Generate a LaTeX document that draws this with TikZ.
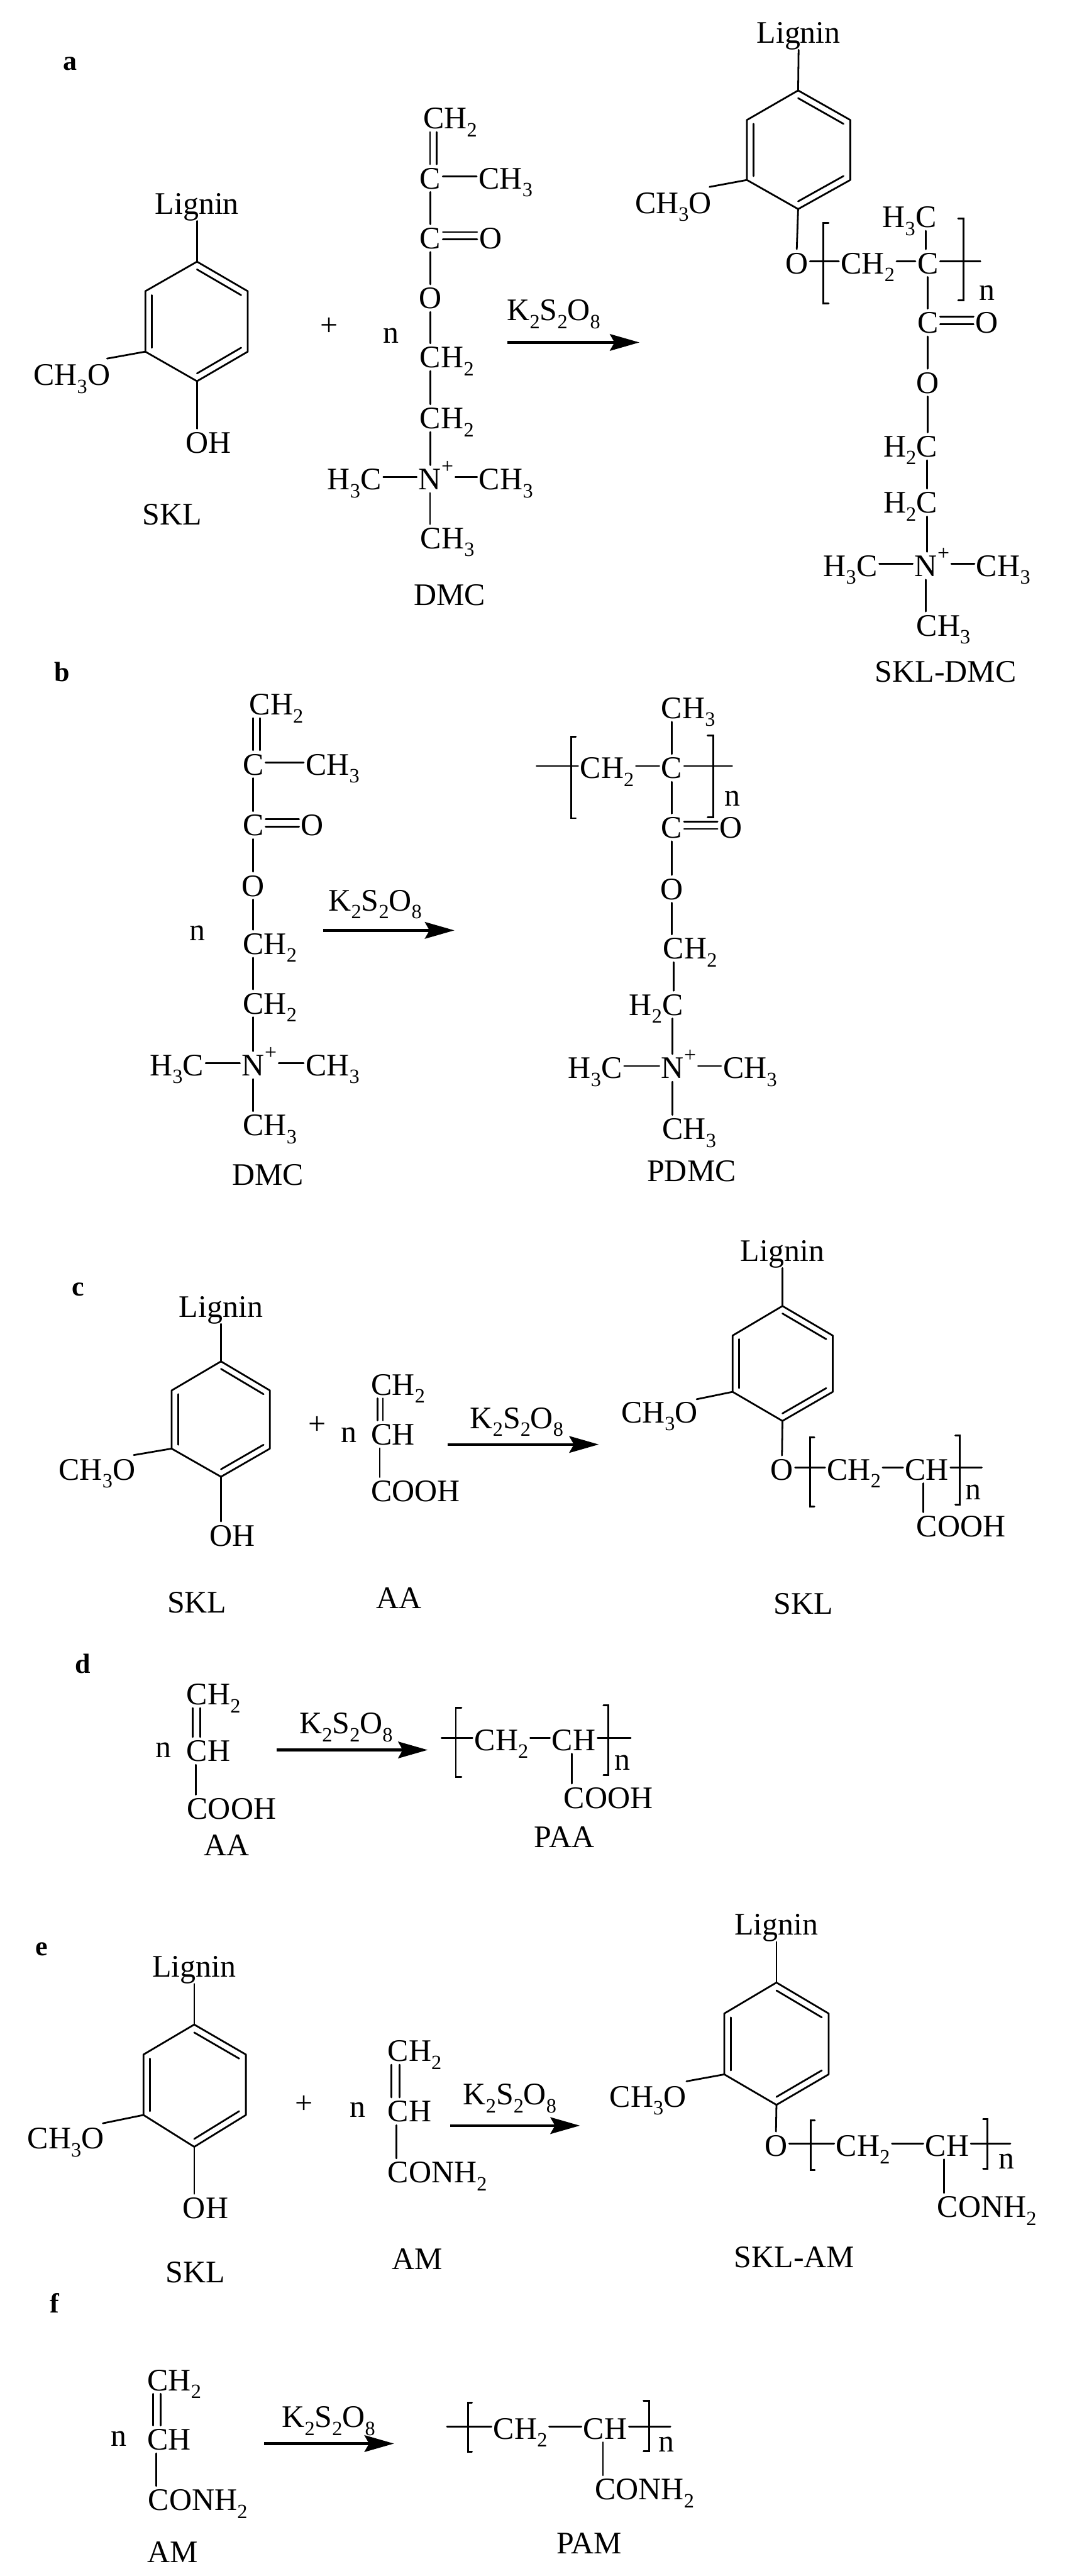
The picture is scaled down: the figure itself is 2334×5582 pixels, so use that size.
\documentclass[tikz,border=0pt]{standalone}
\usepackage{fontspec}
\setmainfont{Liberation Serif}
\usetikzlibrary{calc,arrows.meta}
\newcommand\sbs[1]{\raisebox{-17pt}{\fontsize{44}{44}\selectfont #1}}
\newcommand\sps[1]{\raisebox{36pt}{\fontsize{46}{46}\selectfont #1}}
\tikzset{
  bond/.style={line width=3.8pt,line cap=round,line join=round,black},
  arr/.style={line width=6pt,black,-{Stealth[length=64pt,width=36pt,inset=10pt]}},
  brk/.style={line width=4pt,line cap=round,line join=miter,black},
  every node/.style={font=\fontsize{68}{70}\selectfont,black},
  atom/.style={inner xsep=4pt,inner ysep=7pt,anchor=base,text height=46pt,text depth=0pt},
  txt/.style={inner sep=0pt,anchor=base},
  tag/.style={inner sep=0pt,anchor=base west,font=\fontsize{60}{62}\selectfont\bfseries}
}
% atom letter centred on x, text to its right
\newcommand\At[5]{%
  \node[atom] (#1) at (#2,#3) {#4};%
  \def\restarg{#5}\ifx\restarg\empty\else
  \node[atom,anchor=base west] (#1r) at ([xshift=-8pt]#1.base east) {#5};\fi}
% atom letter centred on x, text to its left
\newcommand\AtL[5]{%
  \node[atom] (#1) at (#2,#3) {#5};%
  \node[atom,anchor=base east] (#1l) at ([xshift=8pt]#1.base west) {#4};}
\newcommand\Lab[4]{\node[txt] (#1) at (#2,#3) {#4};}
\newcommand\VB[3][0pt]{%
  \coordinate (vbtmp) at (#2.south |- #3.north);%
  \draw[bond] ([xshift=#1]#2.south) -- ([xshift=#1]vbtmp);}
\newcommand\HB[2]{\draw[bond] ([yshift=4pt]#1.east) -- ([yshift=4pt]#2.west);}
\newcommand\DblH[2]{%
  \draw[bond] ([yshift=13pt]#1.east) -- ([yshift=13pt]#2.west);%
  \draw[bond] ([yshift=-3pt]#1.east) -- ([yshift=-3pt]#2.west);}
% lower atom, upper atom, two x offsets
\newcommand\DblV[4]{%
  \coordinate (vbtmp) at (#1.north |- #2.south);%
  \draw[bond] ([xshift=#3]#1.north) -- ([xshift=#3]vbtmp);%
  \draw[bond] ([xshift=#4]#1.north) -- ([xshift=#4]vbtmp);}
% prefix, xtop, ytop, xleft, xright, yupper, ylower, ybottom
\newcommand\Ring[8]{%
  \coordinate (#11) at (#2,#3);\coordinate (#12) at (#5,#6);\coordinate (#13) at (#5,#7);%
  \coordinate (#14) at (#2,#8);\coordinate (#15) at (#4,#7);\coordinate (#16) at (#4,#6);%
  \coordinate (#1c) at ($(#11)!.5!(#14)$);%
  \draw[bond] (#11)--(#12)--(#13)--(#14)--(#15)--(#16)--cycle;%
  \draw[bond] ($(#11)!.13!(#1c)$) -- ($(#12)!.13!(#1c)$);%
  \draw[bond] ($(#13)!.13!(#1c)$) -- ($(#14)!.13!(#1c)$);%
  \draw[bond] ($(#15)!.13!(#1c)$) -- ($(#16)!.13!(#1c)$);}
% x, top, bottom, tick
\newcommand\Brk[4]{\draw[brk] (#1+#4,#2) -- (#1,#2) -- (#1,#3) -- (#1+#4,#3);}
\newcommand\KSO[3]{\node[txt,anchor=base west] (#1) at (#2,#3) {K\sbs{2}S\sbs{2}O\sbs{8}};}
\begin{document}
\begin{tikzpicture}[x=1pt,y=-1pt]
\fill[white] (0,0) rectangle (2334,5582);
\useasboundingbox (0,0) rectangle (2334,5582);

%% ===== a =====
\node[tag] (tagA) at (137,152) {a};
\Ring{ar}{427}{567}{315}{537}{631}{762}{826}
\Lab{aLig}{427}{464}{Lignin}
\draw[bond] (aLig.south) -- (ar1);
\At{aOH}{427}{982}{O}{H}
\draw[bond] (ar4) -- (aOH.north);
\AtL{aMe}{214}{835}{CH\sbs{3}}{O}
\coordinate (aMeE) at (232,777);
\draw[bond] (ar5) -- (aMeE);
\Lab{aSKL}{373}{1137}{SKL}
\Lab{aPlus}{713}{727}{+}
\Lab{aN}{847}{743}{n}
% DMC
\At{a1}{940}{279}{C}{H\sbs{2}}
\At{a2}{933}{409}{C}{}
\At{a2m}{1060}{409}{C}{H\sbs{3}}
\At{a3}{933}{539}{C}{}
\At{a3o}{1063}{539}{O}{}
\At{a4}{933}{669}{O}{}
\At{a5}{933}{797}{C}{H\sbs{2}}
\At{a6}{933}{929}{C}{H\sbs{2}}
\At{a7}{932}{1061}{N}{\sps{+}}
\AtL{a7l}{804}{1061}{H\sbs{3}}{C}
\At{a7m}{1061}{1061}{C}{H\sbs{3}}
\At{a8}{934}{1189}{C}{H\sbs{3}}
\DblV{a2}{a1}{-1pt}{13pt}
\HB{a2}{a2m}
\VB{a2}{a3}
\DblH{a3}{a3o}
\VB{a3}{a4}
\VB{a4}{a5}
\VB{a5}{a6}
\VB{a6}{a7}
\HB{a7l}{a7}
\HB{a7r}{a7m}
\VB{a7}{a8}
\Lab{aDMC}{975}{1311}{DMC}
\KSO{aK}{1099}{695}
\coordinate (aA1) at (1100,742);
\coordinate (aA2) at (1386,742);
\draw[arr] (aA1) -- (aA2);
% SKL-DMC
\Ring{pr}{1730}{196}{1619}{1843}{260}{390}{453}
\Lab{pLig}{1731}{93}{Lignin}
\draw[bond] (pLig.south) -- (pr1);
\AtL{pMe}{1518}{462}{CH\sbs{3}}{O}
\coordinate (pMeE) at (1538,405);
\draw[bond] (pr5) -- (pMeE);
\At{pO}{1727}{593}{O}{}
\draw[bond] (pr4) -- (pO.north);
\Brk{1784}{483}{657}{12}
\Brk{2089}{474}{651}{-12}
\At{pCH2}{1845}{593}{C}{H\sbs{2}}
\At{pC}{2011}{593}{C}{}
\AtL{pTop}{2007}{493}{H\sbs{3}}{C}
\coordinate (pFree) at (2125,566);
\HB{pO}{pCH2}
\HB{pCH2r}{pC}
\draw[bond] ([yshift=4pt]pC.east) -- (pFree);
\VB{pTop}{pC}
\Lab{pN}{2140}{651}{n}
\At{p3}{2011}{722}{C}{}
\At{p3o}{2139}{722}{O}{}
\At{p4}{2011}{852}{O}{}
\AtL{p5}{2009}{990}{H\sbs{2}}{C}
\AtL{p6}{2009}{1112}{H\sbs{2}}{C}
\At{p7}{2007}{1249}{N}{\sps{+}}
\AtL{p7l}{1879}{1249}{H\sbs{3}}{C}
\At{p7m}{2139}{1249}{C}{H\sbs{3}}
\At{p8}{2009}{1378}{C}{H\sbs{3}}
\VB{pC}{p3}
\DblH{p3}{p3o}
\VB{p3}{p4}
\VB{p4}{p5}
\VB{p5}{p6}
\VB{p6}{p7}
\HB{p7l}{p7}
\HB{p7r}{p7m}
\VB{p7}{p8}
\Lab{pName}{2050}{1478}{SKL-DMC}

%% ===== b =====
\node[tag] (tagB) at (118,1476) {b};
\At{b1}{563}{1549}{C}{H\sbs{2}}
\At{b2}{549}{1679}{C}{}
\At{b2m}{685}{1679}{C}{H\sbs{3}}
\At{b3}{549}{1811}{C}{}
\At{b3o}{677}{1811}{O}{}
\At{b4}{549}{1942}{O}{}
\At{b5}{549}{2068}{C}{H\sbs{2}}
\At{b6}{549}{2197}{C}{H\sbs{2}}
\At{b7}{549}{2331}{N}{\sps{+}}
\AtL{b7l}{419}{2331}{H\sbs{3}}{C}
\At{b7m}{685}{2331}{C}{H\sbs{3}}
\At{b8}{549}{2461}{C}{H\sbs{3}}
\DblV{b2}{b1}{-1pt}{15pt}
\HB{b2}{b2m}
\VB{b2}{b3}
\DblH{b3}{b3o}
\VB{b3}{b4}
\VB{b4}{b5}
\VB{b5}{b6}
\VB{b6}{b7}
\HB{b7l}{b7}
\HB{b7r}{b7m}
\VB{b7}{b8}
\Lab{bN}{428}{2038}{n}
\Lab{bDMC}{581}{2568}{DMC}
\KSO{bK}{712}{1974}
\coordinate (bA1) at (700,2016);
\coordinate (bA2) at (985,2016);
\draw[arr] (bA1) -- (bA2);
% PDMC
\At{q0}{1456}{1557}{C}{H\sbs{3}}
\Brk{1238}{1597}{1773}{10}
\Brk{1546}{1594}{1771}{-12}
\At{qCH2}{1280}{1687}{C}{H\sbs{2}}
\At{qC}{1456}{1687}{C}{}
\coordinate (qFreeL) at (1163,1660);
\coordinate (qFreeR) at (1587,1660);
\draw[bond] (qFreeL) -- ([yshift=4pt]qCH2.west);
\HB{qCH2r}{qC}
\draw[bond] ([yshift=4pt]qC.east) -- (qFreeR);
\VB{q0}{qC}
\Lab{qN}{1587}{1747}{n}
\At{q3}{1456}{1816}{C}{}
\At{q3o}{1584}{1816}{O}{}
\At{q4}{1456}{1949}{O}{}
\At{q5}{1460}{2078}{C}{H\sbs{2}}
\AtL{q6}{1458}{2200}{H\sbs{2}}{C}
\At{q7}{1458}{2337}{N}{\sps{+}}
\AtL{q7l}{1326}{2337}{H\sbs{3}}{C}
\At{q7m}{1590}{2337}{C}{H\sbs{3}}
\At{q8}{1458}{2469}{C}{H\sbs{3}}
\VB{qC}{q3}
\DblH{q3}{q3o}
\VB{q3}{q4}
\VB{q4}{q5}
\VB{q5}{q6}
\VB{q6}{q7}
\HB{q7l}{q7}
\HB{q7r}{q7m}
\VB{q7}{q8}
\Lab{qName}{1499}{2560}{PDMC}

%% ===== c =====
\node[tag] (tagC) at (156,2808) {c};
\Ring{cr}{479}{2950}{372}{585}{3013}{3139}{3200}
\Lab{cLig}{479}{2854}{Lignin}
\draw[bond] (cLig.south) -- (cr1);
\At{cOH}{479}{3350}{O}{H}
\draw[bond] (cr4) -- (cOH.north);
\AtL{cMe}{269}{3207}{CH\sbs{3}}{O}
\coordinate (cMeE) at (290,3153);
\draw[bond] (cr5) -- (cMeE);
\Lab{cPlus}{688}{3108}{+}
\Lab{cN}{756}{3125}{n}
\At{c1}{827}{3023}{C}{H\sbs{2}}
\At{c2}{827}{3131}{C}{H}
\At{c3}{827}{3254}{C}{OOH}
\DblV{c2}{c1}{-9pt}{3pt}
\VB[-4pt]{c2}{c3}
\Lab{cAA}{865}{3485}{AA}
\Lab{cSKL}{427}{3495}{SKL}
\KSO{cK}{1019}{3095}
\coordinate (cA1) at (970,3130);
\coordinate (cA2) at (1298,3130);
\draw[arr] (cA1) -- (cA2);
\Ring{sr}{1696}{2830}{1588}{1805}{2894}{3016}{3079}
\Lab{sLig}{1696}{2733}{Lignin}
\draw[bond] (sLig.south) -- (sr1);
\AtL{sMe}{1488}{3083}{CH\sbs{3}}{O}
\coordinate (sMeE) at (1510,3032);
\draw[bond] (sr5) -- (sMeE);
\At{sO}{1695}{3207}{O}{}
\draw[bond] (sr4) -- (sO.north);
\Brk{1756}{3114}{3264}{9}
\Brk{2080}{3111}{3260}{-9}
\At{sCH2}{1815}{3207}{C}{H\sbs{2}}
\At{sCH}{1984}{3207}{C}{H}
\coordinate (sFree) at (2128,3180);
\HB{sO}{sCH2}
\HB{sCH2r}{sCH}
\draw[bond] ([yshift=4pt]sCHr.east) -- (sFree);
\Lab{sN}{2110}{3250}{n}
\At{sCO}{2009}{3330}{C}{OOH}
\VB[17pt]{sCH}{sCO}
\Lab{sName}{1741}{3497}{SKL}

%% ===== d =====
\node[tag] (tagD) at (163,3625) {d};
\Lab{dN}{354}{3808}{n}
\At{d1}{427}{3694}{C}{H\sbs{2}}
\At{d2}{427}{3817}{C}{H}
\At{d3}{428}{3942}{C}{OOH}
\DblV{d2}{d1}{-9pt}{7pt}
\VB[-3pt]{d2}{d3}
\Lab{dAA}{491}{4021}{AA}
\KSO{dK}{649}{3757}
\coordinate (dA1) at (600,3792);
\coordinate (dA2) at (927,3792);
\draw[arr] (dA1) -- (dA2);
\Brk{988}{3700}{3850}{12}
\Brk{1319}{3695}{3847}{-11}
\At{tCH2}{1051}{3793}{C}{H\sbs{2}}
\At{tCH}{1219}{3793}{C}{H}
\coordinate (tFreeL) at (957,3766);
\coordinate (tFreeR) at (1367,3766);
\draw[bond] (tFreeL) -- ([yshift=4pt]tCH2.west);
\HB{tCH2r}{tCH}
\draw[bond] ([yshift=4pt]tCHr.east) -- (tFreeR);
\Lab{tN}{1349}{3835}{n}
\At{tCO}{1245}{3918}{C}{OOH}
\VB[20pt]{tCH}{tCO}
\Lab{tName}{1223}{4003}{PAA}

%% ===== e =====
\node[tag] (tagE) at (77,4238) {e};
\Ring{er}{421}{4387}{311}{533}{4452}{4583}{4652}
\Lab{eLig}{421}{4284}{Lignin}
\draw[bond] (eLig.south) -- (er1);
\At{eOH}{421}{4807}{O}{H}
\draw[bond] (er4) -- (eOH.north);
\AtL{eMe}{201}{4656}{CH\sbs{3}}{O}
\coordinate (eMeE) at (223,4601);
\draw[bond] (er5) -- (eMeE);
\Lab{ePlus}{659}{4580}{+}
\Lab{eN}{775}{4588}{n}
\At{e1}{863}{4467}{C}{H\sbs{2}}
\At{e2}{863}{4598}{C}{H}
\At{e3}{863}{4730}{C}{ONH\sbs{2}}
\DblV{e2}{e1}{-15pt}{3pt}
\VB[-4pt]{e2}{e3}
\Lab{eAM}{905}{4918}{AM}
\Lab{eSKL}{424}{4946}{SKL}
\KSO{eK}{1004}{4561}
\coordinate (eA1) at (976,4606);
\coordinate (eA2) at (1257,4606);
\draw[arr] (eA1) -- (eA2);
\Ring{ur}{1683}{4296}{1570}{1796}{4363}{4495}{4561}
\Lab{uLig}{1683}{4193}{Lignin}
\draw[bond] (uLig.south) -- (ur1);
\AtL{uMe}{1463}{4566}{CH\sbs{3}}{O}
\coordinate (uMeE) at (1488,4510);
\draw[bond] (ur5) -- (uMeE);
\At{uO}{1682}{4672}{O}{}
\draw[bond] (ur4) -- (uO.north);
\Brk{1757}{4594}{4702}{9}
\Brk{2140}{4592}{4699}{-9}
\At{uCH2}{1835}{4672}{C}{H\sbs{2}}
\At{uCH}{2028}{4672}{C}{H}
\coordinate (uFree) at (2190,4645);
\HB{uO}{uCH2}
\HB{uCH2r}{uCH}
\draw[bond] ([yshift=4pt]uCHr.east) -- (uFree);
\Lab{uN}{2182}{4700}{n}
\At{uCO}{2054}{4805}{C}{ONH\sbs{2}}
\VB[18pt]{uCH}{uCO}
\Lab{uName}{1722}{4913}{SKL-AM}

%% ===== f =====
\node[tag] (tagF) at (108,5012) {f};
\Lab{fN}{258}{5301}{n}
\At{f1}{342}{5180}{C}{H\sbs{2}}
\At{f2}{342}{5309}{C}{H}
\At{f3}{344}{5440}{C}{ONH\sbs{2}}
\DblV{f2}{f1}{-10pt}{6pt}
\VB[-3pt]{f2}{f3}
\Lab{fAM}{374}{5553}{AM}
\KSO{fK}{611}{5260}
\coordinate (fA1) at (573,5295);
\coordinate (fA2) at (854,5295);
\draw[arr] (fA1) -- (fA2);
\Brk{1014}{5207}{5313}{9}
\Brk{1407}{5203}{5311}{-12}
\At{vCH2}{1092}{5285}{C}{H\sbs{2}}
\At{vCH}{1287}{5285}{C}{H}
\coordinate (vFreeL) at (969,5258);
\coordinate (vFreeR) at (1453,5258);
\draw[bond] (vFreeL) -- ([yshift=4pt]vCH2.west);
\HB{vCH2r}{vCH}
\draw[bond] ([yshift=4pt]vCHr.east) -- (vFreeR);
\Lab{vN}{1445}{5313}{n}
\At{vCO}{1312}{5417}{C}{ONH\sbs{2}}
\VB[20pt]{vCH}{vCO}
\Lab{vName}{1277}{5534}{PAM}
\end{tikzpicture}
\end{document}
